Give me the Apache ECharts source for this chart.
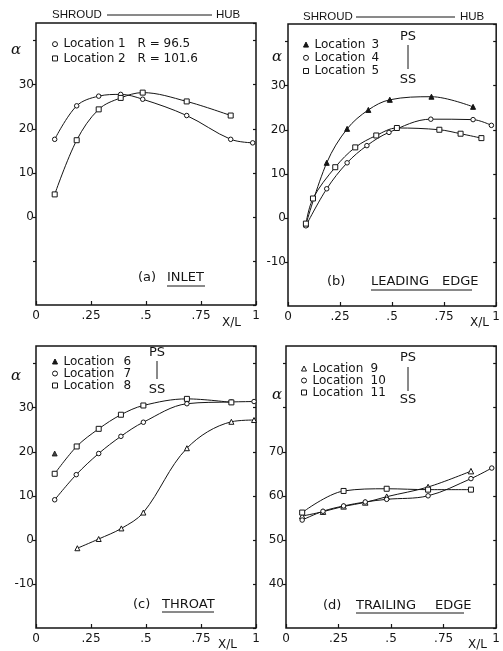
<!DOCTYPE html>
<html><head><meta charset="utf-8">
<script src="https://cdn.jsdelivr.net/npm/echarts@6/dist/echarts.min.js"></script>
<style>html,body{margin:0;padding:0;background:#fff}#c{width:503px;height:651px}</style>
</head><body><div id="c"></div>
<script>
// ---------- data ----------
const xTickText = ['0', '.25', '.5', '.75', '1'];
const xTickVals = [0, 0.25, 0.5, 0.75, 1];

// (a) INLET
const loc1X = [0.085, 0.185, 0.285, 0.385, 0.485, 0.685, 0.885, 0.985];
const loc1Y = [17.6, 25.2, 27.4, 27.8, 26.7, 23.0, 17.6, 16.8];
const loc2X = [0.085, 0.185, 0.285, 0.385, 0.485, 0.685, 0.885];
const loc2Y = [5.1, 17.4, 24.4, 27.0, 28.2, 26.2, 23.0];
const radiusText = {'Location 1': 'R = 96.5', 'Location 2': 'R = 101.6'};

// (b) LEADING EDGE
const loc3X = [0.086, 0.186, 0.284, 0.386, 0.489, 0.689, 0.889];
const loc3Y = [-1.5, 12.5, 20.2, 24.5, 26.8, 27.5, 25.2];
const loc4X = [0.086, 0.186, 0.284, 0.379, 0.485, 0.686, 0.889, 0.977];
const loc4Y = [-1.8, 6.6, 12.5, 16.4, 19.4, 22.4, 22.3, 21.0];
const loc5X = [0.086, 0.12, 0.227, 0.323, 0.424, 0.523, 0.727, 0.829, 0.929];
const loc5Y = [-1.3, 4.4, 11.5, 16.0, 18.7, 20.4, 20.0, 19.1, 18.1];

// (c) THROAT
const loc6X = [0.188, 0.285, 0.388, 0.488, 0.686, 0.888, 0.991];
const loc6Y = [-1.9, 0.2, 2.6, 6.2, 20.8, 26.8, 27.2];
const loc6LoneX = [0.085];
const loc6LoneY = [19.6];
const loc7X = [0.085, 0.183, 0.285, 0.386, 0.488, 0.686, 0.888, 0.991];
const loc7Y = [9.1, 14.8, 19.6, 23.5, 26.7, 30.9, 31.3, 31.4];
const loc8X = [0.085, 0.185, 0.285, 0.386, 0.488, 0.686, 0.888];
const loc8Y = [15.0, 21.2, 25.2, 28.4, 30.5, 32.0, 31.2];

// (d) TRAILING EDGE
const loc9X = [0.077, 0.176, 0.274, 0.377, 0.479, 0.676, 0.880];
const loc9Y = [55.4, 56.4, 57.6, 58.5, 59.8, 62.0, 65.6];
const loc10X = [0.077, 0.176, 0.274, 0.377, 0.479, 0.676, 0.880, 0.979];
const loc10Y = [54.5, 56.5, 57.7, 58.6, 59.2, 60.0, 63.9, 66.3];
const loc11X = [0.077, 0.274, 0.479, 0.676, 0.880];
const loc11Y = [56.2, 61.1, 61.6, 61.4, 61.4];

const yLabelsA = [0, 10, 20, 30];
const yLabelsB = [-10, 0, 10, 20, 30];
const yLabelsC = [-10, 0, 10, 20, 30];
const yLabelsD = [40, 50, 60, 70];
const yRangeABC = [-20, 44];
const yRangeD = [30, 94];

// ---------- chart ----------
const INK = '#151515';
const FONT = 'DejaVu Sans';
const pairs = (xs, ys) => xs.map((x, i) => [x, ys[i]]);

const grids = [
  {left: 36, top: 23, width: 220, height: 282},
  {left: 288, top: 24, width: 219, height: 282},
  {left: 36, top: 346, width: 220, height: 282},
  {left: 286, top: 346, width: 219, height: 282}
];
const yRanges = [yRangeABC, yRangeABC, yRangeABC, yRangeD];
const yLabelSets = [yLabelsA, yLabelsB, yLabelsC, yLabelsD];

const xAxis = [], yAxis = [];
grids.forEach((g, i) => {
  xAxis.push({
    type: 'value', gridIndex: i, min: 0, max: 1, interval: 0.25, position: 'bottom',
    axisLine: {show: false, onZero: false}, splitLine: {show: false},
    axisTick: {show: true, inside: true, length: 4, lineStyle: {color: INK, width: 1.2}},
    axisLabel: {
      margin: 5, color: INK, fontFamily: FONT, fontSize: 12,
      formatter: v => { const k = xTickVals.indexOf(v); return k >= 0 ? xTickText[k] : ''; }
    }
  });
  const labs = yLabelSets[i];
  yAxis.push({
    type: 'value', gridIndex: i, position: 'left', min: yRanges[i][0], max: yRanges[i][1], interval: 10,
    axisLine: {show: false, onZero: false}, splitLine: {show: false},
    axisTick: {show: true, inside: false, length: 3, lineStyle: {color: INK, width: 1.2}},
    axisLabel: {
      margin: 2, color: INK, fontFamily: FONT, fontSize: 12,
      showMinLabel: false, showMaxLabel: false,
      formatter: v => labs.indexOf(v) >= 0 ? String(v) : ''
    }
  });
  yAxis.push({
    type: 'value', gridIndex: i, position: 'right', min: yRanges[i][0], max: yRanges[i][1], interval: 10,
    axisLine: {show: false, onZero: false}, splitLine: {show: false},
    axisTick: {show: true, inside: true, length: 3, lineStyle: {color: INK, width: 1.2}},
    axisLabel: {show: false}
  });
});

const hollow = {color: '#fff', borderColor: INK, borderWidth: 1};
const solid = {color: INK, borderColor: INK, borderWidth: 1};
function lineSeries(name, xs, ys, panel, symbol, filled, size) {
  return {
    name, type: 'line', xAxisIndex: panel, yAxisIndex: panel * 2,
    data: pairs(xs, ys), smooth: 0.35, symbol, symbolSize: size || 5,
    itemStyle: filled ? solid : hollow,
    lineStyle: {color: INK, width: 1}, z: 3
  };
}

const series = [
  lineSeries('Location 1', loc1X, loc1Y, 0, 'circle', false, 4.5),
  lineSeries('Location 2', loc2X, loc2Y, 0, 'rect', false, 5),
  lineSeries('Location 3', loc3X, loc3Y, 1, 'triangle', true, 5),
  lineSeries('Location 4', loc4X, loc4Y, 1, 'circle', false, 4.5),
  lineSeries('Location 5', loc5X, loc5Y, 1, 'rect', false, 5),
  lineSeries('Location 6', loc6X, loc6Y, 2, 'triangle', false, 5),
  {name: 'Location 6', type: 'scatter', xAxisIndex: 2, yAxisIndex: 4,
   data: pairs(loc6LoneX, loc6LoneY), symbol: 'triangle', symbolSize: 5, itemStyle: solid},
  lineSeries('Location 7', loc7X, loc7Y, 2, 'circle', false, 4.5),
  lineSeries('Location 8', loc8X, loc8Y, 2, 'rect', false, 5),
  lineSeries('Location 9', loc9X, loc9Y, 3, 'triangle', false, 5.5),
  lineSeries('Location 10', loc10X, loc10Y, 3, 'circle', false, 4.5),
  lineSeries('Location 11', loc11X, loc11Y, 3, 'rect', false, 5)
];

function legendItem(name, icon, filled) {
  return {name, icon, itemStyle: filled ? {color: INK, borderColor: INK, borderWidth: 1} : {color: '#fff', borderColor: INK, borderWidth: 1}};
}
function legendBase(left, top, lineH, items, formatter, rich) {
  return {
    left, top, orient: 'vertical', itemWidth: 5, itemHeight: 5, itemGap: 0,
    selectedMode: false, padding: 0,
    textStyle: {color: INK, fontFamily: FONT, fontSize: 12, lineHeight: lineH, padding: [0, 0, 0, 1], rich},
    data: items, formatter
  };
}
const splitNum = n => { const p = n.split(' '); return '{a|' + p[0] + '}{b|' + p[1] + '}'; };
const legends = [
  legendBase(52, 37, 14.3,
    [legendItem('Location 1', 'circle'), legendItem('Location 2', 'rect')],
    n => '{a|' + n + '}{b|' + radiusText[n] + '}',
    {a: {width: 74, fontFamily: FONT, fontSize: 12, color: INK}, b: {fontFamily: FONT, fontSize: 12, color: INK}}),
  legendBase(303, 38, 13.2,
    [legendItem('Location 3', 'triangle', true), legendItem('Location 4', 'circle'), legendItem('Location 5', 'rect')],
    splitNum,
    {a: {width: 57, fontFamily: FONT, fontSize: 12, color: INK}, b: {fontFamily: FONT, fontSize: 12, color: INK}}),
  legendBase(52, 355.5, 11.7,
    [legendItem('Location 6', 'triangle', true), legendItem('Location 7', 'circle'), legendItem('Location 8', 'rect')],
    splitNum,
    {a: {width: 60, fontFamily: FONT, fontSize: 12, color: INK}, b: {fontFamily: FONT, fontSize: 12, color: INK}}),
  legendBase(301, 362.5, 11.7,
    [legendItem('Location 9', 'triangle'), legendItem('Location 10', 'circle'), legendItem('Location 11', 'rect')],
    splitNum,
    {a: {width: 58, fontFamily: FONT, fontSize: 12, color: INK}, b: {fontFamily: FONT, fontSize: 12, color: INK}})
];

// ---------- annotations ----------
const G = [];
function txt(x, y, s, opt) {
  opt = opt || {};
  G.push({type: 'text', x, y, silent: true, style: {
    text: s, fill: INK, fontFamily: opt.family || FONT, fontSize: opt.size || 12,
    fontStyle: opt.italic ? 'italic' : 'normal', align: opt.align || 'left', verticalAlign: 'middle'
  }});
}
function seg(x1, y1, x2, y2, w) {
  G.push({type: 'line', silent: true, shape: {x1, y1, x2, y2}, style: {stroke: INK, lineWidth: w || 1}});
}
const HDR = {family: 'Liberation Sans', size: 11.5};
// shroud -> hub
txt(52, 15, 'SHROUD', HDR); seg(107, 15, 212, 15); txt(216, 15, 'HUB', HDR);
txt(303, 17, 'SHROUD', HDR); seg(356, 17, 455, 17); txt(460, 17, 'HUB', HDR);
// alpha
txt(16, 50, 'α', {family: 'DejaVu Serif', size: 15, italic: true, align: 'center'});
txt(277, 57, 'α', {family: 'DejaVu Serif', size: 15, italic: true, align: 'center'});
txt(16, 376, 'α', {family: 'DejaVu Serif', size: 15, italic: true, align: 'center'});
txt(277, 395, 'α', {family: 'DejaVu Serif', size: 15, italic: true, align: 'center'});
// PS | SS
txt(408, 37, 'PS', {align: 'center', size: 13}); seg(408, 45, 408, 69); txt(408, 80, 'SS', {align: 'center', size: 13});
txt(157, 353, 'PS', {align: 'center', size: 13}); seg(157, 361, 157, 379); txt(157, 390, 'SS', {align: 'center', size: 13});
txt(408, 358, 'PS', {align: 'center', size: 13}); seg(408, 367, 408, 391); txt(408, 400, 'SS', {align: 'center', size: 13});
// titles
txt(138, 278, '(a)', {size: 13}); txt(167, 278, 'INLET', {size: 13}); seg(167, 286, 205, 286);
txt(327, 282, '(b)', {size: 13}); txt(371, 282, 'LEADING', {size: 13}); txt(442, 282, 'EDGE', {size: 13}); seg(371, 290, 472, 290);
txt(133, 605, '(c)', {size: 13}); txt(162, 605, 'THROAT', {size: 13}); seg(162, 612, 214, 612);
txt(323, 606, '(d)', {size: 13}); txt(356, 606, 'TRAILING', {size: 13}); txt(435, 606, 'EDGE', {size: 13}); seg(356, 613, 464, 613);
// X/L
txt(222, 323, 'X/L'); txt(470, 323, 'X/L'); txt(218, 645, 'X/L'); txt(468, 645, 'X/L');

const option = {
  animation: false,
  backgroundColor: '#fff',
  grid: grids.map(g => Object.assign({show: true, borderColor: INK, borderWidth: 1.5, backgroundColor: 'transparent'}, g)),
  xAxis, yAxis, series, legend: legends,
  graphic: {elements: G}
};
const chart = echarts.init(document.getElementById('c'), null, {renderer: 'canvas'});
chart.setOption(option);
</script></body></html>
